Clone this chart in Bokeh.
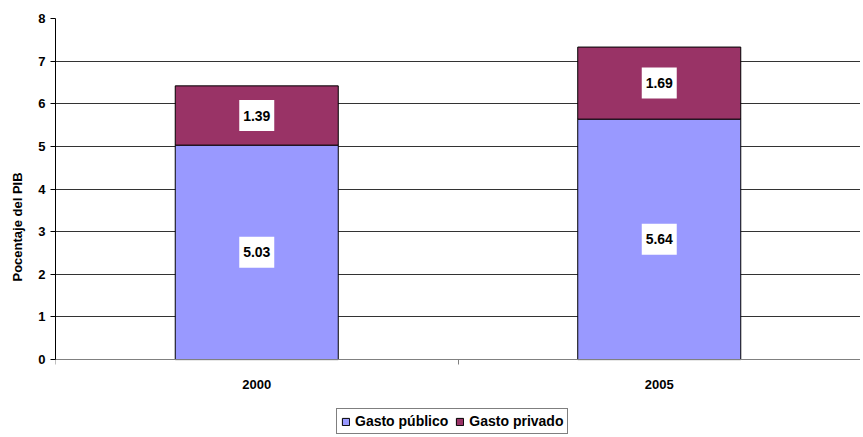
from bokeh.plotting import figure
from bokeh.models import (Range1d, FixedTicker, ColumnDataSource, Legend, LegendItem)
from bokeh.core.properties import value
from bokeh.embed import file_html
from bokeh.resources import INLINE

years = ["2000", "2005"]
gasto_publico = [5.03, 5.64]
gasto_privado = [1.39, 1.69]
series_names = ["Gasto público", "Gasto privado"]
colors = ["#9999FF", "#993366"]
y_ticks = [0, 1, 2, 3, 4, 5, 6, 7, 8]

FONT = "Liberation Sans"
Y_BOTTOM = -1.78   # extra room below zero for axis labels and legend

xpos = [i + 0.5 for i in range(len(years))]
top_pub = gasto_publico
top_tot = [a + b for a, b in zip(gasto_publico, gasto_privado)]

p = figure(width=860, height=437, output_backend="svg", toolbar_location=None,
           x_range=Range1d(0, len(years)), y_range=Range1d(Y_BOTTOM, 8),
           min_border_left=55, min_border_right=0, min_border_top=18, min_border_bottom=2)
p.outline_line_color = None

src = ColumnDataSource(dict(x=xpos, top_pub=top_pub, top_tot=top_tot))

r1 = p.vbar(x="x", bottom=0, top="top_pub", width=0.405, source=src,
            fill_color=colors[0], line_color="black", line_width=1)
r2 = p.vbar(x="x", bottom="top_pub", top="top_tot", width=0.405, source=src,
            fill_color=colors[1], line_color="black", line_width=1)

lab_src = ColumnDataSource(dict(
    x=xpos + xpos,
    y=[v / 2 for v in gasto_publico] + [a + b / 2 for a, b in zip(gasto_publico, gasto_privado)],
    text=["%.2f" % v for v in gasto_publico] + ["%.2f" % v for v in gasto_privado]))
p.rect(x="x", y="y", width=35, height=31, width_units="screen", height_units="screen",
       source=lab_src, fill_color="white", line_color=None)
p.text(x="x", y="y", text="text", source=lab_src, text_align="center", text_baseline="middle",
       text_font=value(FONT), text_font_style="bold", text_font_size="14px", text_color="black")

# x axis sits at y = 0
p.xaxis.fixed_location = 0
p.xaxis.ticker = FixedTicker(ticks=xpos, minor_ticks=list(range(len(years) + 1)))
p.xaxis.major_label_overrides = {x: y for x, y in zip(xpos, years)}
p.xaxis.major_tick_out = 0
p.xaxis.major_tick_in = 0
p.xaxis.minor_tick_out = 5
p.xaxis.minor_tick_in = 0
p.xaxis.minor_tick_line_color = "#808080"
p.xaxis.axis_line_color = "#808080"
p.xaxis.major_label_standoff = 15

p.yaxis.bounds = (0, 8)
p.yaxis.ticker = FixedTicker(ticks=y_ticks)
p.yaxis.minor_tick_line_color = None
p.yaxis.major_tick_out = 5
p.yaxis.major_tick_in = 0
p.yaxis.axis_line_color = "black"
p.yaxis.major_tick_line_color = "black"
p.yaxis.major_label_standoff = 5
p.yaxis.axis_label = "Pocentaje del PIB"
p.yaxis.axis_label_standoff = 10
for ax in (p.xaxis, p.yaxis):
    ax.major_label_text_font = FONT
    ax.major_label_text_font_style = "bold"
    ax.major_label_text_font_size = "13px"
    ax.major_label_text_color = "black"
p.yaxis.axis_label_text_font = FONT
p.yaxis.axis_label_text_font_style = "bold"
p.yaxis.axis_label_text_font_size = "13px"
p.yaxis.axis_label_text_color = "black"

p.xgrid.grid_line_color = None
p.ygrid.ticker = FixedTicker(ticks=y_ticks)
p.ygrid.grid_line_color = "#333333"
p.ygrid.grid_line_width = 1

legend = Legend(items=[LegendItem(label=series_names[0], renderers=[r1]),
                       LegendItem(label=series_names[1], renderers=[r2])],
                orientation="horizontal", location=(281, 1),
                label_text_font=FONT, label_text_font_style="bold", label_text_font_size="14px",
                label_text_color="black", glyph_width=9, glyph_height=9,
                label_standoff=5, spacing=7, padding=4, margin=0,
                border_line_color="black", border_line_width=1,
                label_height=14)
p.add_layout(legend, "center")

open("out.html", "w").write(file_html(p, INLINE))
